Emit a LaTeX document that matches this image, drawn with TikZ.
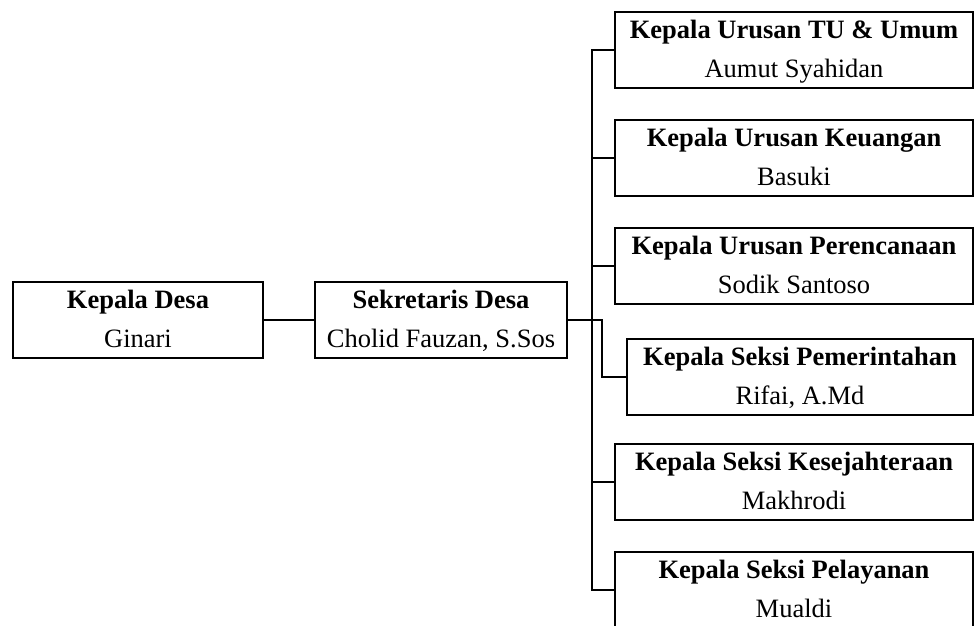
\documentclass[tikz,border=0pt]{standalone}
\usepackage{fontspec}
\setmainfont{Liberation Serif}
\tikzset{
  orgbox/.style={draw, line width=1.8pt, inner sep=0pt, minimum height=76pt},
  ttl/.style={anchor=base, inner sep=0pt, font=\fontsize{26.5}{30}\selectfont\bfseries},
  nm/.style={anchor=base, inner sep=0pt, font=\fontsize{26.5}{30}\selectfont},
  conn/.style={line width=1.4pt}
}
\newcommand\orgunit[6]{%
  \node[orgbox, minimum width=#4pt] (#1) at (#2,#3) {};
  \node[ttl] (#1t) at (#2,#3-12) {#5};
  \node[nm] (#1n) at (#2,#3+27) {#6};
}
\begin{document}
\begin{tikzpicture}[x=1pt,y=-1pt]
  \useasboundingbox (0,0) rectangle (975,625);
  \clip (0,0) rectangle (975,625);
  \orgunit{kd}{138}{320}{250}{Kepala Desa}{Ginari}
  \orgunit{sd}{441}{320}{252}{Sekretaris Desa}{Cholid Fauzan, S.Sos}
  \orgunit{b1}{794}{50}{358}{Kepala Urusan TU \& Umum}{Aumut Syahidan}
  \orgunit{b2}{794}{158}{358}{Kepala Urusan Keuangan}{Basuki}
  \orgunit{b3}{794}{266}{358}{Kepala Urusan Perencanaan}{Sodik Santoso}
  \orgunit{b4}{800}{377}{346}{Kepala Seksi Pemerintahan}{Rifai, A.Md}
  \orgunit{b5}{794}{482}{358}{Kepala Seksi Kesejahteraan}{Makhrodi}
  \orgunit{b6}{794}{590}{358}{Kepala Seksi Pelayanan}{Mualdi}
  \coordinate (bt) at (592,50);
  \coordinate (bb) at (592,590);
  \coordinate (jn) at (602,320);
  \draw[conn] (kd.east) -- (sd.west);
  \draw[conn] (b1.west) -- (bt) -- (bb) -- (b6.west);
  \draw[conn] (b2.west) -- (b2.west -| bt);
  \draw[conn] (b3.west) -- (b3.west -| bt);
  \draw[conn] (b5.west) -- (b5.west -| bt);
  \draw[conn] (sd.east) -- (jn) |- (b4.west);
\end{tikzpicture}
\end{document}
